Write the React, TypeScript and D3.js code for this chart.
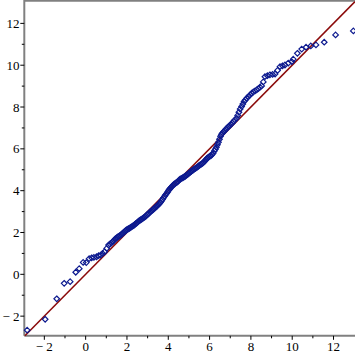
import React from 'react'
import * as d3 from 'd3'

// theoretical quantile (x) vs sample quantile (y)
const qTheory = [
  -2.83, -1.96, -1.40, -1.04, -0.75, -0.48, -0.31, -0.12, 0.03, 0.17, 0.29, 0.40, 0.53, 0.63, 0.73, 0.82, 0.92, 1.02, 1.11,
  1.18, 1.25, 1.31, 1.37, 1.42, 1.47, 1.52, 1.57, 1.62, 1.67, 1.72, 1.77, 1.82, 1.87, 1.92, 1.97, 2.02,
  2.07, 2.12, 2.17, 2.22, 2.27, 2.32, 2.37, 2.42, 2.47, 2.52, 2.57, 2.62,
  2.67, 2.72, 2.77, 2.82, 2.87, 2.92, 2.97, 3.02, 3.07, 3.12, 3.17, 3.22, 3.27, 3.32, 3.37, 3.42, 3.47, 3.52, 3.57, 3.62, 3.67, 3.72, 3.77, 3.82, 3.87, 3.92, 3.97,
  4.02, 4.07, 4.12, 4.17, 4.22, 4.27, 4.32, 4.37, 4.42, 4.47, 4.52, 4.57, 4.62,
  4.67, 4.72, 4.77, 4.82, 4.87, 4.92, 4.97, 5.02, 5.07, 5.12, 5.17, 5.22, 5.27, 5.32, 5.37, 5.42, 5.47, 5.52, 5.57, 5.62, 5.67, 5.72, 5.77, 5.82, 5.87, 5.92, 5.97, 6.02, 6.07, 6.12,
  6.18, 6.23, 6.28, 6.33, 6.38, 6.43, 6.48, 6.53, 6.58, 6.63, 6.68, 6.74, 6.80, 6.86, 6.92, 6.98, 7.04, 7.10, 7.16, 7.22,
  7.31, 7.36, 7.42, 7.48, 7.55, 7.61, 7.67, 7.73, 7.80, 7.88, 7.96, 8.04, 8.12, 8.20, 8.28, 8.36, 8.44, 8.52, 8.60, 8.68,
  8.80, 8.92, 9.05, 9.17, 9.29, 9.41, 9.53, 9.65, 9.81, 9.98, 10.05, 10.25, 10.46, 10.67, 10.90, 11.15, 11.55, 12.10, 12.96,
]
const qSample = [
  -2.67, -2.15, -1.17, -0.43, -0.35, 0.10, 0.27, 0.57, 0.56, 0.75, 0.79, 0.81, 0.84, 0.89, 0.92, 1.00, 1.08, 1.24, 1.40,
  1.45, 1.50, 1.56, 1.62, 1.68, 1.72, 1.76, 1.80, 1.83, 1.86, 1.90, 1.94, 1.98, 2.03, 2.08, 2.12, 2.15,
  2.18, 2.20, 2.24, 2.27, 2.30, 2.33, 2.37, 2.42, 2.45, 2.50, 2.54, 2.58,
  2.61, 2.64, 2.68, 2.71, 2.75, 2.79, 2.84, 2.88, 2.93, 2.98, 3.02, 3.06, 3.10, 3.14, 3.19, 3.24, 3.28, 3.33, 3.38, 3.44, 3.51, 3.58, 3.66, 3.73, 3.80, 3.87, 3.94,
  4.02, 4.08, 4.14, 4.19, 4.25, 4.30, 4.33, 4.37, 4.40, 4.44, 4.50, 4.55, 4.58,
  4.60, 4.63, 4.66, 4.69, 4.73, 4.77, 4.81, 4.85, 4.89, 4.93, 4.97, 5.00, 5.04, 5.07, 5.10, 5.14, 5.18, 5.22, 5.25, 5.28, 5.32, 5.37, 5.42, 5.48, 5.54, 5.58, 5.62, 5.65, 5.68, 5.73,
  5.80, 5.90, 5.98, 6.08, 6.20, 6.32, 6.46, 6.60, 6.70, 6.76, 6.82, 6.88, 6.95, 7.01, 7.07, 7.12, 7.18, 7.24, 7.31, 7.38,
  7.46, 7.60, 7.75, 7.90, 8.02, 8.14, 8.26, 8.34, 8.42, 8.50, 8.58, 8.66, 8.72, 8.77, 8.82, 8.88, 8.95, 9.01, 9.20, 9.45,
  9.50, 9.54, 9.56, 9.58, 9.75, 9.93, 9.97, 10.01, 10.10, 10.17, 10.29, 10.57, 10.77, 10.86, 10.92, 10.97, 11.10, 11.45, 11.64,
]
const majorTicks = [-2, 0, 2, 4, 6, 8, 10, 12]
const minorTicks = [-1, 1, 3, 5, 7, 9, 11]

const xDomain = [-2.97, 13.04]
const yDomain = [-2.94, 13.08]

function fmt(v: number) {
  return v < 0 ? '\u2212 ' + Math.abs(v) : String(v)
}

export default function App() {
  const width = 355
  const height = 355
  const left = 24.3
  const bottom = 335.8
  const top = 0.8

  const x = d3.scaleLinear().domain(xDomain).range([left, 355])
  const y = d3.scaleLinear().domain(yDomain).range([bottom, top])

  const points = qTheory.map((t, i) => ({ t, s: qSample[i] }))

  const lo = Math.max(xDomain[0], yDomain[0])
  const hi = Math.min(xDomain[1], yDomain[1])
  const ref = d3.line<number>().x(d => x(d)).y(d => y(d))([lo, hi])

  const diamond = d3.symbol().type(d3.symbolDiamond2).size(20)()

  const axisColor = '#808080'
  const font = 'Liberation Serif, serif'

  return (
    <div style={{ position: 'fixed', left: 0, top: 0 }}>
      <svg width={width} height={height} style={{ display: 'block', background: '#fff' }}>
        {/* frame */}
        <line x1={left} x2={width} y1={top} y2={top} stroke={axisColor} strokeWidth={1.8} />
        <line x1={left} x2={left} y1={0} y2={bottom} stroke={axisColor} strokeWidth={2} />
        <line x1={left} x2={width} y1={bottom} y2={bottom} stroke={axisColor} strokeWidth={2} />

        {/* ticks */}
        {majorTicks.map(v => (
          <g key={'mx' + v}>
            <line x1={x(v)} x2={x(v)} y1={bottom} y2={bottom + 4} stroke="#000" strokeWidth={1} />
            <text x={x(v)} y={351} textAnchor="middle" fontSize={13} fontFamily={font} fill="#000">{fmt(v)}</text>
            <line x1={left - 4} x2={left} y1={y(v)} y2={y(v)} stroke="#000" strokeWidth={1} />
            <text x={19.5} y={y(v)} dy="0.35em" textAnchor="end" fontSize={13} fontFamily={font} fill="#000">{fmt(v)}</text>
          </g>
        ))}
        {minorTicks.map(v => (
          <g key={'mn' + v}>
            <line x1={x(v)} x2={x(v)} y1={bottom} y2={bottom + 2.5} stroke="#000" strokeWidth={1} />
            <line x1={left - 2.5} x2={left} y1={y(v)} y2={y(v)} stroke="#000" strokeWidth={1} />
          </g>
        ))}

        {/* reference line */}
        <path d={ref ?? ''} stroke="#8b0a0a" strokeWidth={1.5} fill="none" />

        {/* quantile points */}
        {points.map((p, i) => (
          <path key={i} d={diamond ?? ''} transform={`translate(${x(p.t)},${y(p.s)})`}
            fill="none" stroke="#0d1a8f" strokeWidth={1.2} />
        ))}
      </svg>
    </div>
  )
}
